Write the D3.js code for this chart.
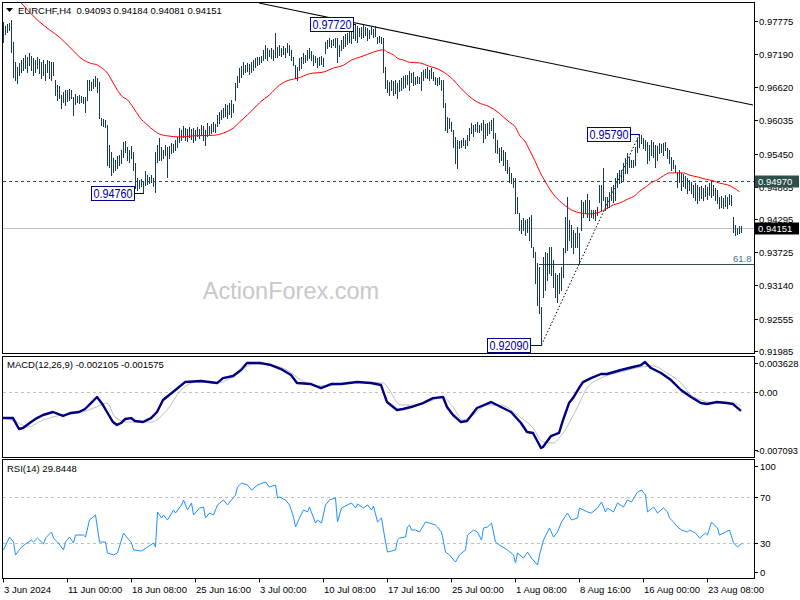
<!DOCTYPE html>
<html><head><meta charset="utf-8">
<script src="https://cdn.jsdelivr.net/npm/d3@7"></script>
<style>
body{margin:0;background:#fff}
svg{display:block}
text{font-family:"Liberation Sans",Arial,sans-serif}
</style>
</head><body>
<svg id="c" width="800" height="600"></svg>
<script>
// ---------------- DATA ----------------
const symbol = "EURCHF,H4";
const headerValues = ["0.94093","0.94184","0.94081","0.94151"];
const highs = [
.9776,.9769,.9772,.9774,.9779,.9741,.9705,.9697,.9704,.9709,
.9712,.9718,.9714,.9721,.9716,.9712,.9709,.9714,.9711,.9705,
.9709,.9702,.9709,.9707,.9705,.9705,.9674,.9665,.9663,.9648,
.9653,.9656,.9656,.9658,.9656,.9644,.9649,.9646,.9648,.9646,
.9644,.9644,.9674,.9674,.9670,.9676,.9681,.9677,.9670,.9607,
.9606,.9604,.9595,.9560,.9548,.9537,.9534,.9541,.9542,.9551,
.9565,.9567,.9556,.9551,.9558,.9548,.9528,.9502,.9499,.9500,
.9495,.9514,.9507,.9504,.9507,.9502,.9548,.9560,.9572,.9556,
.9551,.9560,.9556,.9558,.9563,.9562,.9569,.9574,.9590,.9586,
.9593,.9590,.9588,.9591,.9588,.9590,.9586,.9591,.9588,.9595,
.9593,.9586,.9599,.9593,.9597,.9600,.9597,.9613,.9618,.9621,
.9625,.9632,.9630,.9634,.9639,.9632,.9669,.9681,.9695,.9698,
.9705,.9700,.9704,.9702,.9705,.9709,.9712,.9714,.9714,.9716,
.9727,.9735,.9730,.9727,.9730,.9727,.9756,.9732,.9735,.9730,
.9734,.9730,.9739,.9735,.9727,.9714,.9700,.9697,.9712,.9714,
.9721,.9718,.9727,.9730,.9725,.9718,.9716,.9712,.9714,.9716,
.9712,.9741,.9744,.9748,.9744,.9746,.9748,.9748,.9735,.9744,
.9751,.9755,.9756,.9762,.9764,.9771,.9772,.9769,.9765,.9767,
.9771,.9767,.9765,.9762,.9769,.9764,.9769,.9749,.9751,.9749,
.9748,.9697,.9674,.9670,.9674,.9672,.9674,.9669,.9674,.9677,
.9681,.9683,.9683,.9690,.9686,.9688,.9679,.9681,.9679,.9688,
.9692,.9693,.9697,.9692,.9695,.9688,.9679,.9677,.9679,.9674,
.9674,.9634,.9609,.9607,.9600,.9586,.9574,.9569,.9567,.9569,
.9572,.9569,.9577,.9590,.9599,.9595,.9597,.9600,.9595,.9599,
.9604,.9597,.9599,.9600,.9604,.9607,.9581,.9569,.9555,.9556,
.9551,.9548,.9534,.9521,.9511,.9502,.9502,.9469,.9441,.9428,
.9432,.9428,.9430,.9434,.9437,.9381,.9372,.9353,.9346,.9276,
.9363,.9372,.9370,.9381,.9381,.9358,.9335,.9332,.9335,.9346,
.9379,.9434,.9469,.9428,.9420,.9411,.9406,.9416,.9406,.9463,
.9460,.9463,.9474,.9463,.9446,.9446,.9446,.9451,.9490,.9490,
.9520,.9469,.9469,.9478,.9486,.9490,.9502,.9511,.9516,.9516,
.9528,.9537,.9546,.9539,.9534,.9534,.9556,.9572,.9579,.9577,
.9572,.9569,.9565,.9560,.9569,.9565,.9560,.9558,.9563,.9562,
.9563,.9565,.9555,.9551,.9539,.9534,.9525,.9513,.9516,.9511,
.9509,.9506,.9502,.9499,.9495,.9490,.9493,.9490,.9486,.9488,
.9485,.9490,.9486,.9493,.9499,.9490,.9485,.9481,.9469,.9470,
.9467,.9472,.9469,.9474,.9472,.9434,.9420,.9414,.9418,.94184
];
const lows = [
.9741,.9755,.9758,.9762,.9723,.9679,.9674,.9669,.9683,.9688,
.9692,.9695,.9688,.9700,.9692,.9683,.9688,.9695,.9686,.9677,
.9683,.9674,.9688,.9677,.9674,.9683,.9648,.9639,.9642,.9625,
.9635,.9630,.9637,.9639,.9642,.9613,.9632,.9635,.9634,.9635,
.9634,.9618,.9639,.9656,.9656,.9660,.9663,.9653,.9607,.9595,
.9593,.9591,.9525,.9521,.9507,.9513,.9516,.9520,.9525,.9528,
.9539,.9548,.9534,.9530,.9537,.9516,.9485,.9481,.9485,.9488,
.9476,.9490,.9492,.9493,.9495,.9488,.9478,.9530,.9534,.9534,
.9537,.9542,.9504,.9537,.9546,.9548,.9551,.9556,.9565,.9569,
.9574,.9569,.9567,.9574,.9570,.9565,.9569,.9576,.9572,.9577,
.9569,.9560,.9576,.9579,.9581,.9584,.9583,.9593,.9599,.9606,
.9609,.9611,.9607,.9614,.9609,.9618,.9639,.9662,.9670,.9679,
.9685,.9688,.9690,.9685,.9688,.9692,.9697,.9700,.9702,.9705,
.9709,.9712,.9709,.9716,.9712,.9709,.9714,.9714,.9718,.9716,
.9719,.9714,.9723,.9718,.9709,.9700,.9677,.9674,.9692,.9695,
.9704,.9705,.9709,.9712,.9709,.9700,.9705,.9697,.9700,.9702,
.9698,.9721,.9730,.9734,.9732,.9735,.9732,.9705,.9716,.9727,
.9730,.9734,.9737,.9741,.9739,.9748,.9744,.9741,.9751,.9748,
.9749,.9753,.9744,.9748,.9755,.9749,.9751,.9739,.9741,.9739,
.9688,.9660,.9653,.9648,.9656,.9648,.9651,.9642,.9655,.9656,
.9660,.9662,.9667,.9656,.9670,.9665,.9667,.9669,.9669,.9656,
.9674,.9679,.9677,.9674,.9677,.9674,.9667,.9665,.9667,.9656,
.9627,.9586,.9583,.9590,.9584,.9556,.9528,.9520,.9555,.9556,
.9560,.9555,.9560,.9569,.9581,.9576,.9584,.9583,.9583,.9586,
.9565,.9572,.9577,.9581,.9586,.9572,.9548,.9546,.9530,.9534,
.9525,.9516,.9511,.9495,.9493,.9486,.9441,.9441,.9411,.9406,
.9411,.9402,.9407,.9393,.9381,.9363,.9318,.9279,.9265,.9209,
.9293,.9306,.9323,.9335,.9332,.9311,.9293,.9284,.9300,.9306,
.9328,.9372,.9376,.9393,.9381,.9370,.9381,.9381,.9353,.9411,
.9434,.9441,.9434,.9428,.9434,.9432,.9428,.9437,.9460,.9446,
.9463,.9446,.9449,.9451,.9463,.9460,.9463,.9486,.9493,.9495,
.9499,.9511,.9511,.9521,.9521,.9521,.9525,.9548,.9556,.9563,
.9555,.9551,.9528,.9534,.9542,.9539,.9521,.9534,.9546,.9548,
.9542,.9551,.9537,.9528,.9516,.9520,.9513,.9486,.9495,.9481,
.9488,.9485,.9476,.9481,.9476,.9469,.9463,.9458,.9463,.9467,
.9463,.9470,.9465,.9472,.9469,.9472,.9463,.9458,.9449,.9451,
.9449,.9453,.9449,.9456,.9455,.9407,.9402,.9404,.9406,.94081
];
// moving average (red) read at bar indices
const maIdx = [7,13,18,23,28,33,40,43,47,50,52,54,57,59,62,65,68,72,75,78,82,88,95,105,110,115,118,122,125,128,133,138,143,147,153,160,165,170,174,178,182,185,190,192,195,197,200,203,208,213,218,222,225,228,232,237,243,247,250,253,256,258,261,263,266,268,271,273,276,278,281,283,288,293,297,302,305,308,312,316,318,321,323,327,330,333,340,343,347,351,355,358,362,365,368];
const maVal = [.9817,.9793,.9776,.9762,.9749,.9732,.9709,.9704,.9700,.9693,.9686,.9674,.9656,.9646,.9639,.9625,.9609,.9595,.9586,.9579,.9576,.9574,.9576,.9577,.9581,.9590,.9600,.9613,.9623,.9634,.9648,.9665,.9674,.9677,.9685,.9688,.9695,.9700,.9709,.9714,.9719,.9723,.9727,.9723,.9718,.9712,.9709,.9705,.9704,.9698,.9692,.9683,.9674,.9662,.9648,.9635,.9627,.9618,.9609,.9600,.9591,.9577,.9565,.9551,.9530,.9514,.9495,.9483,.9469,.9462,.9453,.9448,.9441,.9439,.9441,.9449,.9455,.9458,.9465,.9472,.9479,.9486,.9492,.9499,.9506,.9511,.9511,.9507,.9504,.9500,.9497,.9493,.9490,.9485,.9478];
// MACD main line and signal
const macdIdx = [0,5,8,10,14,17,20,25,30,34,38,41,44,47,50,52,55,57,59,61,64,66,70,74,77,80,85,91,99,107,110,115,119,122,129,134,139,144,147,154,159,164,169,177,184,189,192,197,200,204,210,215,220,222,225,229,232,237,244,249,254,259,262,265,269,270,274,278,280,283,285,288,290,294,299,302,309,315,319,321,324,329,334,339,344,349,352,357,362,365,369];
const macdVal = [-.00290,-.00290,-.00411,-.00400,-.00334,-.00290,-.00256,-.00223,-.00267,-.00234,-.00223,-.00190,-.00124,-.00057,-.00146,-.00223,-.00334,-.00367,-.00345,-.00301,-.00290,-.00323,-.00334,-.00290,-.00223,-.00091,-.00002,.00108,.00119,.00097,.00152,.00175,.00241,.00318,.00318,.00296,.00252,.00186,.00097,.00086,.00042,.00086,.00086,.00108,.00097,.00075,-.00113,-.00201,-.00190,-.00168,-.00124,-.00069,-.00057,-.00168,-.00256,-.00334,-.00323,-.00179,-.00113,-.00168,-.00223,-.00345,-.00444,-.00455,-.00621,-.00610,-.00489,-.00455,-.00312,-.00124,-.00069,.00042,.00108,.00152,.00197,.00197,.00241,.00274,.00296,.00329,.00263,.00208,.00130,.00020,-.00057,-.00124,-.00135,-.00113,-.00124,-.00135,-.002105];
const signalIdx = [0,7,12,20,29,40,49,52,56,62,74,82,89,97,107,115,125,134,142,149,157,165,179,190,199,207,215,220,225,230,235,242,249,257,265,270,275,280,287,292,299,309,319,325,332,339,344,349,357,365,369];
const signalVal = [-.00290,-.00334,-.00389,-.00312,-.00256,-.00223,-.00146,-.00124,-.00278,-.00334,-.00334,-.00201,.00020,.00108,.00097,.00164,.00307,.00296,.00241,.00130,.00064,.00075,.00108,.00097,-.00146,-.00146,-.00091,-.00057,-.00168,-.00312,-.00256,-.00146,-.00146,-.00256,-.00400,-.00555,-.00566,-.00455,-.00179,.00042,.00152,.00219,.00274,.00285,.00208,.00097,-.00035,-.00091,-.00124,-.00124,-.001575];
// RSI(14)
const rsiIdx = [0,3,5,6,9,11,14,15,17,20,21,24,25,27,30,31,33,35,36,40,41,43,46,48,51,52,55,57,60,62,64,65,69,72,75,76,77,79,80,82,85,86,89,90,92,94,95,98,100,101,103,105,107,110,112,114,116,117,119,122,124,127,131,133,136,137,138,141,143,145,146,148,150,152,153,156,157,159,161,163,166,167,169,172,174,176,177,180,182,184,185,187,189,191,192,196,197,198,201,202,203,204,206,208,211,213,216,217,219,221,223,226,228,231,232,235,237,239,240,242,244,246,248,252,255,256,257,260,262,264,267,268,270,272,273,275,277,279,282,284,287,288,292,294,297,299,301,302,305,307,310,312,314,317,319,321,322,325,327,330,332,333,335,337,339,342,343,346,348,351,352,354,357,358,361,363,365,367,369];
const rsiVal = [24.3,35.4,31.1,20.0,26.8,29.4,32.8,31.1,34.5,29.4,34.5,39.7,34.5,31.1,24.3,31.1,35.4,30.3,37.1,37.1,35.4,50.0,54.3,31.1,31.1,21.7,20.0,21.7,38.8,34.5,30.3,24.3,23.4,26.8,30.3,26.8,56.9,51.7,54.3,50.0,58.6,56.0,62.9,67.2,58.6,64.6,54.3,60.3,61.1,51.7,56.0,54.3,62.9,67.2,62.9,67.2,71.4,78.3,81.7,80.0,75.7,80.0,82.6,78.3,80.0,68.9,69.7,67.2,62.9,52.6,44.0,51.7,58.6,56.9,61.1,47.4,50.0,47.4,62.9,67.2,68.9,48.3,60.3,62.9,64.6,60.3,63.7,60.3,62.9,58.6,62.0,48.3,51.7,31.1,22.5,24.3,32.8,34.5,35.4,44.0,45.7,41.4,41.4,39.7,48.3,47.4,45.7,44.0,39.7,22.5,20.0,14.0,20.0,24.3,37.1,41.4,39.7,32.8,43.1,44.0,47.4,31.1,28.5,24.3,20.0,13.1,21.7,17.4,22.5,17.4,11.4,20.0,32.8,39.7,43.1,35.4,39.7,48.3,56.0,50.0,51.7,60.3,56.9,56.0,60.3,65.4,56.9,60.3,56.9,64.6,61.1,67.2,65.4,74.0,75.7,71.4,56.9,61.1,56.0,60.3,56.9,51.7,48.3,44.0,41.4,39.7,41.4,38.8,34.5,38.8,37.1,48.3,43.1,37.1,39.7,41.4,30.3,26.8,29.8448];
// axis ticks
const priceTicks = [0.97775,0.97190,0.96620,0.96035,0.95450,0.94865,0.94295,0.93725,0.93140,0.92555,0.91985];
const timeLabels = ["3 Jun 2024","11 Jun 00:00","18 Jun 08:00","25 Jun 16:00","3 Jul 00:00","10 Jul 08:00","17 Jul 16:00","25 Jul 00:00","1 Aug 08:00","8 Aug 16:00","16 Aug 00:00","23 Aug 08:00"];
const timeIdx = [0,32,64,96,128,160,192,224,256,288,320,352];
// chart objects
const hLevel = 0.9497;
const bidPrice = 0.94151;
const fibLow = {i:269, p:0.9209}, fibHigh = {i:318, p:0.9579};
const fibLevel = 0.61803;
const trendPts = [[128,0.9809],[375,0.9630]];
const swingLabels = [{i:176,p:0.9772,t:"0.97720"},{i:70,p:0.9476,t:"0.94760"},{i:269,p:0.9209,t:"0.92090"},{i:318,p:0.9579,t:"0.95790"}];
const rsiLevels = [70,30];
const rsiTickLabels = [100,70,30,0];
const macdTickVals = [0.003628,0,-0.007093];
const macdTickText = ["0.003628","0.00","-0.007093"];

// ---------------- DRAW ----------------
const svg = d3.select("#c");
const FONT = 9.5;
const x = d3.scaleLinear().domain([0,375]).range([3,753]);
const yP = d3.scaleLinear().domain([0.91985,0.97775]).range([351,21]);
const yM = d3.scaleLinear().domain([-0.007093,0.003628]).range([456,359]);
const yR = d3.scaleLinear().domain([0,100]).range([578.3,461.7]);
const px = i => Math.round(x(i)) + 0.5;

const defs = svg.append("defs");
defs.append("clipPath").attr("id","cm").append("rect").attr("x",3).attr("y",3).attr("width",751).attr("height",350);
defs.append("clipPath").attr("id","cd").append("rect").attr("x",3).attr("y",357).attr("width",751).attr("height",100);
defs.append("clipPath").attr("id","cr").append("rect").attr("x",3).attr("y",460).attr("width",751).attr("height",118);

// watermark
svg.append("text").attr("x",291).attr("y",299).attr("text-anchor","middle")
  .attr("font-size",23.5).attr("fill","#c8c8c8").text("ActionForex.com");

const gm = svg.append("g").attr("clip-path","url(#cm)");
// bid line
const by = Math.round(yP(bidPrice))+0.5;
gm.append("line").attr("x1",3).attr("x2",754).attr("y1",by).attr("y2",by).attr("stroke","#c0c0c0");
// horizontal level
const hy = Math.round(yP(hLevel))+0.5;
gm.append("line").attr("x1",3).attr("x2",754).attr("y1",hy).attr("y2",hy)
  .attr("stroke","#2f4f4f").attr("stroke-dasharray","3,3");
// fib 61.8 line
const fibP = fibHigh.p - fibLevel*(fibHigh.p - fibLow.p);
const fy = Math.round(yP(fibP))+0.5;
gm.append("line").attr("x1",px(fibLow.i-1)-0.5).attr("x2",754).attr("y1",fy).attr("y2",fy).attr("stroke","#2f4f4f");
svg.append("text").attr("x",751.5).attr("y",fy-3).attr("text-anchor","end").attr("font-size",FONT).attr("fill","#46708e").text("61.8");
// fib dotted trend
gm.append("line").attr("x1",px(fibLow.i)).attr("y1",yP(fibLow.p)).attr("x2",px(fibHigh.i)).attr("y2",yP(fibHigh.p))
  .attr("stroke","#000").attr("stroke-dasharray","1.5,2");
// trendline
gm.append("line").attr("x1",x(trendPts[0][0])).attr("y1",yP(trendPts[0][1])).attr("x2",x(trendPts[1][0])).attr("y2",yP(trendPts[1][1]))
  .attr("stroke","#000").attr("stroke-width",1.1);
// bars
gm.append("g").selectAll("line").data(highs).join("line")
  .attr("x1",(d,i)=>px(i)).attr("x2",(d,i)=>px(i))
  .attr("y1",d=>Math.round(yP(d))).attr("y2",(d,i)=>Math.round(yP(lows[i]))+1)
  .attr("stroke","#163a5a").attr("stroke-width",1).attr("shape-rendering","crispEdges");
// moving average
gm.append("path").datum(maIdx.map((d,k)=>[d,maVal[k]]))
  .attr("d",d3.line().x(d=>x(d[0])+0.5).y(d=>yP(d[1])).curve(d3.curveMonotoneX))
  .attr("fill","none").attr("stroke","#ff0000").attr("stroke-width",1);
// swing labels
const offs = [2,9,11,9];
swingLabels.forEach((s,k)=>{
  const yy = Math.round(yP(s.p))+0.5;
  const right = Math.round(x(s.i)) - offs[k] + 0.5;
  const w = 43, h = 14;
  gm.append("line").attr("x1",right).attr("x2",px(s.i)).attr("y1",yy).attr("y2",yy).attr("stroke","#000080");
  svg.append("rect").attr("x",right-w).attr("y",yy-h/2).attr("width",w).attr("height",h)
    .attr("fill","#fff").attr("stroke","#000080");
  svg.append("text").attr("x",right-w+2).attr("y",yy+4.3)
    .attr("font-size",12).attr("textLength",39).attr("lengthAdjust","spacingAndGlyphs")
    .attr("fill","#0000a0").text(s.t);
});

// MACD
const gd = svg.append("g").attr("clip-path","url(#cd)");
const zy = Math.round(yM(0))+0.5;
gd.append("line").attr("x1",3).attr("x2",754).attr("y1",zy).attr("y2",zy)
  .attr("stroke","#c0c0c0").attr("stroke-dasharray","3,3");
gd.append("path").datum(signalIdx.map((d,k)=>[d,signalVal[k]]))
  .attr("d",d3.line().x(d=>x(d[0])).y(d=>yM(d[1])).curve(d3.curveMonotoneX))
  .attr("fill","none").attr("stroke","#c0c0c0").attr("stroke-width",1);
gd.append("path").datum(macdIdx.map((d,k)=>[d,macdVal[k]]))
  .attr("d",d3.line().x(d=>x(d[0])).y(d=>yM(d[1])))
  .attr("fill","none").attr("stroke","#000080").attr("stroke-width",2.4).attr("stroke-linejoin","round");

// RSI
const gr = svg.append("g").attr("clip-path","url(#cr)");
rsiLevels.forEach(l=>{
  const ly = Math.round(yR(l))+0.5;
  gr.append("line").attr("x1",3).attr("x2",754).attr("y1",ly).attr("y2",ly)
    .attr("stroke","#c0c0c0").attr("stroke-dasharray","3,3");
});
gr.append("path").datum(rsiIdx.map((d,k)=>[d,rsiVal[k]]))
  .attr("d",d3.line().x(d=>x(d[0])+0.5).y(d=>yR(d[1])))
  .attr("fill","none").attr("stroke","#1e90ff").attr("stroke-width",1);

// frames
[[2.5,2.5,752,351],[2.5,356.5,752,101],[2.5,459.5,752,119]].forEach(r=>{
  svg.append("rect").attr("x",r[0]).attr("y",r[1]).attr("width",r[2]).attr("height",r[3])
    .attr("fill","none").attr("stroke","#000").attr("shape-rendering","crispEdges");
});

// right axis: price
priceTicks.forEach(v=>{
  const yy = Math.round(yP(v))+0.5;
  svg.append("line").attr("x1",754.5).attr("x2",758).attr("y1",yy).attr("y2",yy).attr("stroke","#000");
  svg.append("text").attr("x",759).attr("y",yy+3.5).attr("font-size",FONT).attr("fill","#000").text(v.toFixed(5));
});
// highlight labels
function tag(v,bg){
  const yy = Math.round(yP(v))+0.5;
  svg.append("rect").attr("x",755).attr("y",yy-6).attr("width",44).attr("height",12).attr("fill",bg);
  svg.append("text").attr("x",758).attr("y",yy+3.5).attr("font-size",FONT).attr("fill","#fff").text(v.toFixed(5));
}
tag(hLevel,"#2f4f4f");
tag(bidPrice,"#000");

// MACD axis
macdTickVals.forEach((v,k)=>{
  let yy = yM(v);
  if(k===0) yy += 4; if(k===2) yy -= 6;
  yy = Math.round(yy)+0.5;
  svg.append("line").attr("x1",754.5).attr("x2",758).attr("y1",yy).attr("y2",yy).attr("stroke","#000");
  svg.append("text").attr("x",k===2?756.5:759).attr("y",yy+3.5).attr("font-size",k===2?9.2:FONT).attr("fill","#000").text(macdTickText[k]);
});
// RSI axis
rsiTickLabels.forEach(v=>{
  let yy = yR(v);
  if(v===100) yy += 4.5; if(v===0) yy -= 6;
  yy = Math.round(yy)+0.5;
  svg.append("line").attr("x1",754.5).attr("x2",758).attr("y1",yy).attr("y2",yy).attr("stroke","#000");
  svg.append("text").attr("x",760).attr("y",yy+3.5).attr("font-size",FONT).attr("fill","#000").text(v);
});
// time axis
timeIdx.forEach((t,k)=>{
  const xx = px(t);
  svg.append("line").attr("x1",xx).attr("x2",xx).attr("y1",578.5).attr("y2",582.5).attr("stroke","#000");
  svg.append("text").attr("x",xx+0.5).attr("y",593).attr("font-size",FONT).attr("fill","#000").text(timeLabels[k]);
});

// titles
svg.append("path").attr("d","M6,8 L13,8 L9.5,12 Z").attr("fill","#000");
svg.append("text").attr("x",18).attr("y",14).attr("font-size",FONT).attr("fill","#000")
  .attr("xml:space","preserve").text(symbol + "  " + headerValues.join(" "));
svg.append("text").attr("x",7).attr("y",368).attr("font-size",FONT).attr("fill","#000")
  .text("MACD(12,26,9) " + macdVal[macdVal.length-1].toFixed(6) + " " + signalVal[signalVal.length-1].toFixed(6));
svg.append("text").attr("x",7).attr("y",472).attr("font-size",FONT).attr("fill","#000")
  .text("RSI(14) " + rsiVal[rsiVal.length-1].toFixed(4));
</script>
</body></html>
